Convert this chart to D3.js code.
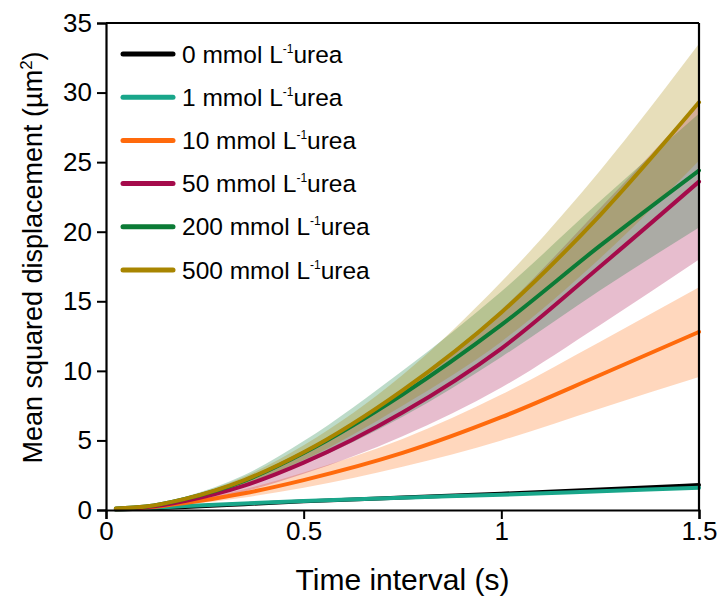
<!DOCTYPE html>
<html>
<head>
<meta charset="utf-8">
<script src="https://cdn.jsdelivr.net/npm/d3@7"></script>
<style>
  body { margin: 0; background: #fff; }
  text { font-family: "Liberation Sans", Arial, sans-serif; fill: #000; }
</style>
</head>
<body>
<div id="chart"></div>
<script>
// data
var times = [0.025, 0.1, 0.2, 0.35, 0.5, 0.75, 1.0, 1.25, 1.5];
var labels = ["0", "1", "10", "50", "200", "500"];
var colors = ["#000000", "#19a68a", "#ff6a0c", "#a50b4b", "#0b7b36", "#a88500"];

var msd0 = [0.03, 0.1, 0.22, 0.42, 0.62, 0.9, 1.17, 1.47, 1.8];
var msd1 = [0.04, 0.14, 0.28, 0.47, 0.64, 0.88, 1.1, 1.35, 1.6];
var msd10 = [0.06, 0.17, 0.5, 1.2, 2.15, 4.1, 6.67, 9.7, 12.8];
var lo10 = [0.05, 0.13, 0.38, 0.9, 1.6, 3.1, 5.0, 7.3, 9.55];
var hi10 = [0.07, 0.21, 0.63, 1.5, 2.7, 5.1, 8.3, 12.1, 16.0];
var msd50 = [0.08, 0.2, 0.65, 1.75, 3.4, 7.0, 11.6, 17.5, 23.6];
var lo50 = [0.06, 0.15, 0.5, 1.33, 2.6, 5.3, 8.8, 13.3, 18.0];
var hi50 = [0.1, 0.25, 0.81, 2.17, 4.2, 8.7, 14.4, 21.7, 29.3];
var msd200 = [0.1, 0.25, 0.8, 2.1, 4.1, 8.3, 13.3, 19.0, 24.4];
var lo200 = [0.08, 0.21, 0.67, 1.72, 3.3, 6.7, 11.0, 15.8, 20.3];
var hi200 = [0.12, 0.3, 0.96, 2.52, 4.95, 10.0, 15.7, 22.2, 28.5];
var msd500 = [0.1, 0.25, 0.8, 2.15, 4.15, 8.6, 14.2, 21.2, 29.3];
var lo500 = [0.09, 0.21, 0.69, 1.86, 3.6, 7.5, 12.1, 18.1, 25.1];
var hi500 = [0.11, 0.28, 0.9, 2.4, 4.65, 9.7, 16.4, 24.4, 33.5];

var xTicks = [0, 0.5, 1, 1.5];
var yTicks = [0, 5, 10, 15, 20, 25, 30, 35];

var means = [msd0, msd1, msd10, msd50, msd200, msd500];
var bands = [null, null, [lo10, hi10], [lo50, hi50], [lo200, hi200], [lo500, hi500]];

//set the stage
var svgWidth = 723;
var svgHeight = 601;
var margin = { top: 23, right: 24, bottom: 91, left: 106 };
var width = svgWidth - margin.left - margin.right;
var height = svgHeight - margin.top - margin.bottom;

var svg = d3.select("#chart")
  .append("svg")
  .attr("width", svgWidth)
  .attr("height", svgHeight);

var chartGroup = svg.append("g")
  .attr("transform", `translate(${margin.left}, ${margin.top})`);

var xScale = d3.scaleLinear().domain([0, 1.5]).range([0, width]);
var yScale = d3.scaleLinear().domain([0, 35]).range([height, 0]);

// shaded bands first
var area = d3.area()
  .x(d => xScale(d.t))
  .y0(d => yScale(d.lo))
  .y1(d => yScale(d.hi))
  .curve(d3.curveMonotoneX);

bands.forEach(function(b, i) {
  if (!b) return;
  var rows = times.map((t, j) => ({ t: t, lo: b[0][j], hi: b[1][j] }));
  chartGroup.append("path")
    .datum(rows)
    .attr("d", area)
    .attr("fill", colors[i])
    .attr("fill-opacity", 0.27);
});

// mean lines
var line = d3.line()
  .x(d => xScale(d.t))
  .y(d => yScale(d.v))
  .curve(d3.curveMonotoneX);

means.forEach(function(m, i) {
  var rows = times.map((t, j) => ({ t: t, v: m[j] }));
  chartGroup.append("path")
    .datum(rows)
    .attr("d", line)
    .attr("fill", "none")
    .attr("stroke", colors[i])
    .attr("stroke-width", 4)
    .attr("stroke-linecap", "round");
});

// axes
var bottomAxis = d3.axisBottom(xScale)
  .tickValues(xTicks)
  .tickFormat(d3.format("~g"))
  .tickSize(9)
  .tickPadding(3);
var leftAxis = d3.axisLeft(yScale)
  .tickValues(yTicks)
  .tickSize(9)
  .tickPadding(5);

var xAxis = chartGroup.append("g")
  .attr("transform", `translate(0, ${height})`)
  .call(bottomAxis);
var yAxis = chartGroup.append("g")
  .call(leftAxis);

[xAxis, yAxis].forEach(function(ax) {
  ax.select(".domain").attr("stroke-width", 2.2);
  ax.selectAll(".tick line").attr("stroke-width", 2);
  ax.selectAll("text")
    .style("font-family", "'Liberation Sans', Arial, sans-serif")
    .style("font-size", "26px");
});

// top and right frame
chartGroup.append("line")
  .attr("x1", 0).attr("x2", width).attr("y1", 0).attr("y2", 0)
  .attr("stroke", "#000").attr("stroke-width", 2.2);
chartGroup.append("line")
  .attr("x1", width).attr("x2", width).attr("y1", 0).attr("y2", height)
  .attr("stroke", "#000").attr("stroke-width", 2.2);

// axis titles
chartGroup.append("text")
  .attr("x", width / 2)
  .attr("y", height + 80)
  .attr("text-anchor", "middle")
  .style("font-size", "30px")
  .text("Time interval (s)");

var yTitle = chartGroup.append("text")
  .attr("transform", "rotate(-90)")
  .attr("x", -(height / 2 - 9))
  .attr("y", -margin.left + 42)
  .attr("text-anchor", "middle")
  .style("font-size", "27px");
yTitle.append("tspan").text("Mean squared displacement (\u00b5m");
yTitle.append("tspan").attr("dy", -10).style("font-size", "17px").text("2");
yTitle.append("tspan").attr("dy", 10).text(")");

// legend
var legend = chartGroup.append("g")
  .attr("transform", "translate(17, 31)");

labels.forEach(function(lab, i) {
  var row = legend.append("g")
    .attr("transform", `translate(0, ${i * 43.2})`);
  row.append("line")
    .attr("x1", 0).attr("x2", 50)
    .attr("stroke", colors[i])
    .attr("stroke-width", 5)
    .attr("stroke-linecap", "round");
  var t = row.append("text")
    .attr("x", 59)
    .attr("y", 8.5)
    .style("font-size", "24.5px");
  t.append("tspan").text(lab + " mmol L");
  t.append("tspan").attr("dy", -10).style("font-size", "12px").text("-1");
  t.append("tspan").attr("dy", 10).text("urea");
});
</script>
</body>
</html>
